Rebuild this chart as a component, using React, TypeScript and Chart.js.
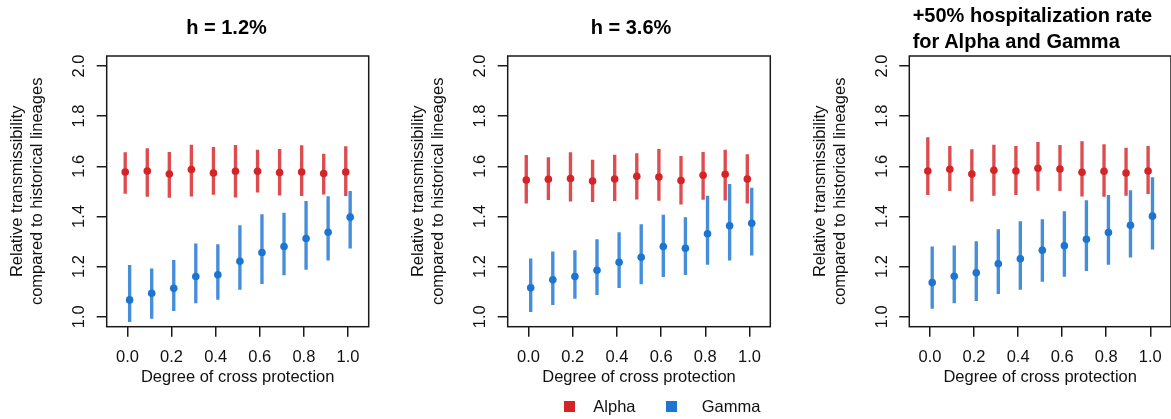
import React, { useEffect, useRef } from 'react';
import { Chart, registerables } from 'chart.js';

Chart.register(...registerables);

// ---------- data ----------
const CROSS = [0, 0.1, 0.2, 0.3, 0.4, 0.5, 0.6, 0.7, 0.8, 0.9, 1.0];
const X_TICKS = [0, 0.2, 0.4, 0.6, 0.8, 1.0];
const Y_TICKS = [1.0, 1.2, 1.4, 1.6, 1.8, 2.0];
const X_RANGE = [-0.094, 1.094];
const Y_RANGE = [0.96, 2.04];
const DODGE = 0.01;
const SERIES = ['Alpha', 'Gamma'];
const PANEL_TITLES = [['h = 1.2%'], ['h = 3.6%'], ['+50% hospitalization rate', 'for Alpha and Gamma']];
const X_TITLE = 'Degree of cross protection';
const Y_TITLE = ['Relative transmissibility', 'compared to historical lineages'];

// Panel 1: h = 1.2%
const P1_ALPHA_MID = [1.577, 1.581, 1.569, 1.587, 1.573, 1.580, 1.580, 1.575, 1.577, 1.571, 1.577];
const P1_ALPHA_LO = [1.492, 1.480, 1.476, 1.481, 1.488, 1.477, 1.497, 1.485, 1.483, 1.489, 1.483];
const P1_ALPHA_HI = [1.655, 1.671, 1.656, 1.685, 1.676, 1.684, 1.665, 1.668, 1.683, 1.649, 1.679];
const P1_GAMMA_MID = [1.067, 1.093, 1.113, 1.160, 1.167, 1.221, 1.256, 1.280, 1.312, 1.337, 1.397];
const P1_GAMMA_LO = [0.980, 0.993, 1.024, 1.055, 1.069, 1.109, 1.132, 1.167, 1.189, 1.225, 1.273];
const P1_GAMMA_HI = [1.205, 1.191, 1.225, 1.291, 1.288, 1.363, 1.407, 1.413, 1.460, 1.479, 1.500];

// Panel 2: h = 3.6%
const P2_ALPHA_MID = [1.545, 1.548, 1.551, 1.541, 1.549, 1.560, 1.557, 1.543, 1.564, 1.568, 1.549];
const P2_ALPHA_LO = [1.453, 1.467, 1.461, 1.459, 1.463, 1.469, 1.464, 1.449, 1.468, 1.465, 1.453];
const P2_ALPHA_HI = [1.644, 1.635, 1.655, 1.625, 1.645, 1.651, 1.668, 1.640, 1.656, 1.665, 1.647];
const P2_GAMMA_MID = [1.115, 1.147, 1.160, 1.185, 1.217, 1.237, 1.280, 1.273, 1.331, 1.363, 1.373];
const P2_GAMMA_LO = [1.020, 1.048, 1.073, 1.088, 1.116, 1.131, 1.160, 1.168, 1.208, 1.225, 1.245];
const P2_GAMMA_HI = [1.231, 1.259, 1.264, 1.308, 1.336, 1.367, 1.405, 1.395, 1.481, 1.528, 1.513];

// Panel 3: +50% hospitalization rate for Alpha and Gamma
const P3_ALPHA_MID = [1.581, 1.588, 1.569, 1.584, 1.581, 1.592, 1.589, 1.576, 1.580, 1.573, 1.581];
const P3_ALPHA_LO = [1.487, 1.503, 1.461, 1.484, 1.487, 1.504, 1.503, 1.481, 1.480, 1.484, 1.491];
const P3_ALPHA_HI = [1.715, 1.680, 1.667, 1.685, 1.680, 1.696, 1.684, 1.699, 1.687, 1.673, 1.680];
const P3_GAMMA_MID = [1.136, 1.161, 1.175, 1.211, 1.231, 1.265, 1.283, 1.309, 1.336, 1.365, 1.401];
const P3_GAMMA_LO = [1.033, 1.055, 1.064, 1.092, 1.109, 1.141, 1.161, 1.184, 1.208, 1.237, 1.269];
const P3_GAMMA_HI = [1.279, 1.283, 1.300, 1.347, 1.379, 1.387, 1.419, 1.463, 1.484, 1.503, 1.555];

// ---------- style ----------
const FONT = '"Liberation Sans", Arial, Helvetica, sans-serif';
const RED = '#D52428';
const RED_BAR = 'rgba(213,36,40,0.82)';
const BLUE = '#1C75D2';
const BLUE_BAR = 'rgba(28,117,210,0.82)';
const AXIS = '#1a1a1a';
const TEXT = '#111111';
const FS = 16.5;

const framePlugin = {
  id: 'frame',
  afterDraw(chart: any) {
    const { ctx, chartArea } = chart;
    ctx.save();
    ctx.strokeStyle = AXIS;
    ctx.lineWidth = 1.5;
    ctx.strokeRect(chartArea.left, chartArea.top, chartArea.right - chartArea.left, chartArea.bottom - chartArea.top);
    ctx.restore();
  },
};

function seriesDatasets(name: string, color: string, barColor: string, mid: number[], lo: number[], hi: number[], shift: number, order: number) {
  return [
    {
      type: 'scatter',
      label: name,
      data: CROSS.map((c, i) => ({ x: c + shift, y: mid[i] })),
      pointRadius: 3.8,
      pointBackgroundColor: color,
      pointBorderWidth: 0,
      backgroundColor: color,
      borderColor: color,
      order,
    },
    {
      type: 'bar',
      label: name + ' interval',
      data: CROSS.map((c, i) => ({ x: c + shift, y: [lo[i], hi[i]] })),
      backgroundColor: barColor,
      borderWidth: 0,
      barThickness: 2.7,
      grouped: false,
      order: order + 1,
    },
  ];
}

type PanelProps = {
  left: number; width: number; boxLeft: number; padRight: number;
  alpha: number[][]; gamma: number[][];
};

function Panel({ left, width, boxLeft, padRight, alpha, gamma }: PanelProps) {
  const ref = useRef<HTMLCanvasElement | null>(null);
  useEffect(() => {
    if (!ref.current) return;
    const datasets: any[] = [
      ...seriesDatasets(SERIES[1], BLUE, BLUE_BAR, gamma[0], gamma[1], gamma[2], DODGE, 1),
      ...seriesDatasets(SERIES[0], RED, RED_BAR, alpha[0], alpha[1], alpha[2], -DODGE, 3),
    ];
    const chart = new Chart(ref.current, {
      type: 'scatter',
      data: { datasets },
      options: {
        animation: false,
        responsive: false,
        events: [],
        layout: { padding: { left: 0, right: padRight, top: 56, bottom: 0 } },
        plugins: { legend: { display: false }, tooltip: { enabled: false }, title: { display: false } },
        scales: {
          x: {
            type: 'linear',
            min: X_RANGE[0],
            max: X_RANGE[1],
            offset: false,
            afterBuildTicks: (s: any) => { s.ticks = X_TICKS.map((v) => ({ value: v })); },
            afterFit: (s: any) => { s.height = 92.3; },
            grid: { offset: false, drawOnChartArea: false, drawTicks: true, tickLength: 10, color: AXIS, lineWidth: 1.5 },
            border: { display: false },
            ticks: {
              padding: 10.9, color: TEXT, font: { family: FONT, size: FS },
              maxRotation: 0, autoSkip: false,
              callback: (v: any) => Number(v).toFixed(1),
            },
            title: { display: true, text: X_TITLE, color: TEXT, font: { family: FONT, size: FS }, padding: { top: 0, bottom: 31.6 } },
          },
          y: {
            type: 'linear',
            min: Y_RANGE[0],
            max: Y_RANGE[1],
            offset: false,
            beginAtZero: false,
            afterBuildTicks: (s: any) => { s.ticks = Y_TICKS.map((v) => ({ value: v })); },
            afterFit: (s: any) => { s.width = boxLeft; },
            grid: { offset: false, drawOnChartArea: false, drawTicks: true, tickLength: 10, color: AXIS, lineWidth: 1.5 },
            border: { display: false },
            ticks: {
              padding: 5.8, color: TEXT, font: { family: FONT, size: FS },
              minRotation: 90, maxRotation: 90, crossAlign: 'center', autoSkip: false,
              callback: (v: any) => Number(v).toFixed(1),
            },
            title: { display: true, text: Y_TITLE, color: TEXT, font: { family: FONT, size: FS }, padding: { top: boxLeft - 89 - FS * 0.6, bottom: 0 } },
          },
        },
      } as any,
      plugins: [framePlugin],
    });
    return () => chart.destroy();
  }, []);
  return (
    <canvas ref={ref} width={width} height={419}
      style={{ position: 'absolute', left, top: 0, width, height: 419 }} />
  );
}

const titleStyle: React.CSSProperties = {
  position: 'absolute', fontFamily: FONT, fontWeight: 'bold', fontSize: 20, lineHeight: '20px',
  color: '#000', whiteSpace: 'nowrap',
};
const legendText: React.CSSProperties = {
  position: 'absolute', fontFamily: FONT, fontSize: FS, lineHeight: FS + 'px', color: TEXT, whiteSpace: 'nowrap', top: 397.7,
};

export default function App() {
  return (
    <div style={{ position: 'fixed', left: 0, top: 0, width: 1171, height: 419, overflow: 'hidden', background: '#fff' }}>
      <Panel left={0} width={390} boxLeft={106.7} padRight={21.3}
        alpha={[P1_ALPHA_MID, P1_ALPHA_LO, P1_ALPHA_HI]} gamma={[P1_GAMMA_MID, P1_GAMMA_LO, P1_GAMMA_HI]} />
      <Panel left={390} width={390} boxLeft={117.7} padRight={9.7}
        alpha={[P2_ALPHA_MID, P2_ALPHA_LO, P2_ALPHA_HI]} gamma={[P2_GAMMA_MID, P2_GAMMA_LO, P2_GAMMA_HI]} />
      <Panel left={780} width={395} boxLeft={129.3} padRight={2.3}
        alpha={[P3_ALPHA_MID, P3_ALPHA_LO, P3_ALPHA_HI]} gamma={[P3_GAMMA_MID, P3_GAMMA_LO, P3_GAMMA_HI]} />

      <div style={{ ...titleStyle, left: 226.5, top: 17.1, transform: 'translateX(-50%)' }}>{PANEL_TITLES[0][0]}</div>
      <div style={{ ...titleStyle, left: 631, top: 17.4, transform: 'translateX(-50%)' }}>{PANEL_TITLES[1][0]}</div>
      <div style={{ ...titleStyle, left: 912.7, top: 3, lineHeight: '25.6px' }}>
        {PANEL_TITLES[2][0]}<br />{PANEL_TITLES[2][1]}
      </div>

      <div style={{ position: 'absolute', left: 563.5, top: 401, width: 11, height: 11, background: RED }} />
      <div style={{ ...legendText, left: 593.3 }}>{SERIES[0]}</div>
      <div style={{ position: 'absolute', left: 665.5, top: 401, width: 11, height: 11, background: BLUE }} />
      <div style={{ ...legendText, left: 701.7 }}>{SERIES[1]}</div>
    </div>
  );
}
